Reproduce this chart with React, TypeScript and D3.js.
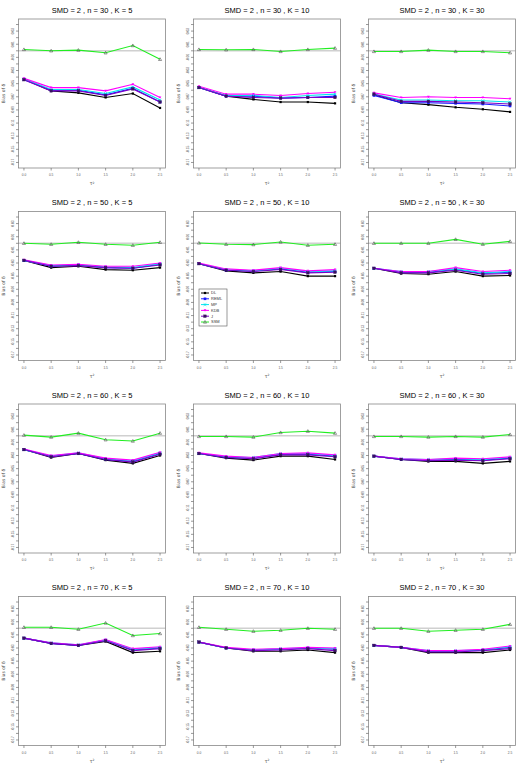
import React from "react";
import * as d3 from "d3";

const taus = [0.0, 0.5, 1.0, 1.5, 2.0, 2.5];
const tauLabels = ["0.0", "0.5", "1.0", "1.5", "2.0", "2.5"];
const nValues = [30, 30, 30, 50, 50, 50, 60, 60, 60, 70, 70, 70];
const kValues = [5, 10, 30, 5, 10, 30, 5, 10, 30, 5, 10, 30];
const yTicks = d3.range(-17, 5).map((d) => d / 100);
const seriesNames = ["DL", "REML", "MP", "KDB", "J", "SSM"];
const seriesColors = ["#000000", "#1a1aff", "#00e5ee", "#ff00ff", "#7a00c8", "#22ee22"];

const dl = [
  [-0.043, -0.061, -0.064, -0.071, -0.065, -0.087],
  [-0.056, -0.069, -0.074, -0.078, -0.078, -0.080],
  [-0.067, -0.079, -0.082, -0.086, -0.089, -0.093],
  [-0.026, -0.037, -0.035, -0.040, -0.041, -0.037],
  [-0.031, -0.042, -0.045, -0.043, -0.050, -0.050],
  [-0.038, -0.046, -0.047, -0.043, -0.050, -0.049],
  [-0.021, -0.033, -0.027, -0.037, -0.042, -0.030],
  [-0.027, -0.034, -0.037, -0.031, -0.031, -0.036],
  [-0.031, -0.036, -0.039, -0.039, -0.042, -0.039],
  [-0.015, -0.023, -0.026, -0.020, -0.037, -0.035],
  [-0.021, -0.030, -0.035, -0.035, -0.033, -0.037],
  [-0.026, -0.029, -0.037, -0.037, -0.037, -0.033],
];
const reml = [
  [-0.044, -0.060, -0.060, -0.067, -0.057, -0.078],
  [-0.056, -0.069, -0.069, -0.072, -0.071, -0.069],
  [-0.068, -0.079, -0.079, -0.080, -0.081, -0.084],
  [-0.026, -0.035, -0.033, -0.037, -0.038, -0.032],
  [-0.031, -0.041, -0.042, -0.039, -0.044, -0.043],
  [-0.038, -0.044, -0.044, -0.040, -0.046, -0.044],
  [-0.021, -0.031, -0.027, -0.036, -0.039, -0.027],
  [-0.027, -0.033, -0.034, -0.028, -0.028, -0.031],
  [-0.031, -0.036, -0.037, -0.036, -0.037, -0.034],
  [-0.015, -0.023, -0.026, -0.018, -0.033, -0.030],
  [-0.021, -0.030, -0.033, -0.032, -0.030, -0.032],
  [-0.026, -0.029, -0.035, -0.035, -0.033, -0.029],
];
const mp = [
  [-0.043, -0.059, -0.059, -0.065, -0.055, -0.075],
  [-0.056, -0.068, -0.068, -0.071, -0.068, -0.066],
  [-0.066, -0.075, -0.075, -0.076, -0.076, -0.078],
  [-0.026, -0.034, -0.033, -0.036, -0.037, -0.031],
  [-0.031, -0.040, -0.042, -0.038, -0.043, -0.042],
  [-0.038, -0.043, -0.043, -0.039, -0.045, -0.043],
  [-0.021, -0.031, -0.026, -0.035, -0.038, -0.026],
  [-0.027, -0.032, -0.033, -0.027, -0.027, -0.030],
  [-0.031, -0.035, -0.036, -0.035, -0.036, -0.033],
  [-0.015, -0.022, -0.025, -0.018, -0.032, -0.029],
  [-0.021, -0.030, -0.033, -0.031, -0.030, -0.031],
  [-0.026, -0.029, -0.034, -0.034, -0.033, -0.028],
];
const kdb = [
  [-0.042, -0.056, -0.056, -0.061, -0.051, -0.071],
  [-0.054, -0.066, -0.066, -0.068, -0.065, -0.063],
  [-0.064, -0.071, -0.070, -0.071, -0.071, -0.073],
  [-0.025, -0.033, -0.032, -0.035, -0.035, -0.030],
  [-0.030, -0.039, -0.041, -0.037, -0.042, -0.040],
  [-0.038, -0.043, -0.043, -0.037, -0.043, -0.041],
  [-0.020, -0.030, -0.026, -0.034, -0.037, -0.025],
  [-0.026, -0.031, -0.033, -0.027, -0.026, -0.029],
  [-0.031, -0.035, -0.036, -0.034, -0.035, -0.032],
  [-0.015, -0.022, -0.025, -0.017, -0.031, -0.028],
  [-0.021, -0.029, -0.032, -0.031, -0.029, -0.030],
  [-0.026, -0.029, -0.034, -0.034, -0.032, -0.027],
];
const jack = [
  [-0.044, -0.061, -0.061, -0.068, -0.058, -0.078],
  [-0.056, -0.069, -0.071, -0.072, -0.071, -0.071],
  [-0.066, -0.077, -0.077, -0.078, -0.079, -0.081],
  [-0.026, -0.035, -0.034, -0.037, -0.038, -0.033],
  [-0.031, -0.041, -0.043, -0.040, -0.045, -0.044],
  [-0.038, -0.045, -0.045, -0.041, -0.047, -0.046],
  [-0.021, -0.032, -0.027, -0.036, -0.040, -0.028],
  [-0.027, -0.033, -0.035, -0.029, -0.029, -0.032],
  [-0.031, -0.036, -0.038, -0.037, -0.038, -0.035],
  [-0.015, -0.023, -0.026, -0.019, -0.034, -0.031],
  [-0.021, -0.030, -0.034, -0.033, -0.031, -0.034],
  [-0.026, -0.029, -0.036, -0.036, -0.034, -0.031],
];
const ssm = [
  [0.002, 0.000, 0.001, -0.003, 0.008, -0.013],
  [0.002, 0.0015, 0.002, -0.001, 0.002, 0.004],
  [-0.001, -0.001, 0.001, -0.001, -0.001, -0.003],
  [0.000, -0.0015, 0.0015, -0.0015, -0.003, 0.0015],
  [0.0005, -0.0015, -0.002, 0.002, -0.003, -0.0015],
  [0.000, 0.000, 0.000, 0.006, -0.0015, 0.003],
  [0.001, -0.002, 0.004, -0.006, -0.008, 0.004],
  [-0.001, -0.001, -0.002, 0.005, 0.007, 0.004],
  [-0.001, -0.001, -0.002, -0.001, -0.002, 0.002],
  [0.0015, 0.0015, -0.0015, 0.008, -0.011, -0.008],
  [0.0015, -0.0015, -0.0045, -0.003, 0.000, -0.0015],
  [0.000, 0.000, -0.0045, -0.003, -0.0015, 0.006],
];
const allSeries = [dl, reml, mp, kdb, jack, ssm];

const W = 147;
const H = 149;
const FONT = "Liberation Sans, Arial, Helvetica, sans-serif";

function Marker({ kind, x, y, color }: { kind: number; x: number; y: number; color: string }) {
  const s = 1.3;
  if (kind === 0) return <rect x={x - 1.1} y={y - 1.1} width={2.2} height={2.2} fill="#000" />;
  if (kind === 1) return <rect x={x - s} y={y - s} width={2 * s} height={2 * s} fill={color} />;
  if (kind === 2)
    return (
      <path d={`M${x - s},${y - s}L${x + s},${y + s}M${x - s},${y + s}L${x + s},${y - s}`} stroke={color} strokeWidth={0.8} />
    );
  if (kind === 3)
    return <path d={`M${x - s},${y - s * 0.8}L${x + s},${y - s * 0.8}L${x},${y + s * 1.1}Z`} fill={color} />;
  if (kind === 4)
    return <rect x={x - s} y={y - s} width={2 * s} height={2 * s} fill="#3a1060" stroke="#3a1060" strokeWidth={0.4} />;
  return <path d={`M${x},${y - s * 1.2}L${x + s * 1.2},${y + s * 0.9}L${x - s * 1.2},${y + s * 0.9}Z`} fill="none" stroke="#555" strokeWidth={0.6} />;
}

function Panel({ idx }: { idx: number }) {
  const col = idx % 3;
  const row = Math.floor(idx / 3);
  const ox = 18.5 + col * 175;
  const oy = 19 + row * 192.5;
  const x = d3.scaleLinear().domain([-0.1, 2.6]).range([0, W]);
  const yPad = 0.21 * 0.04;
  const y = d3.scaleLinear().domain([-0.17 - yPad, 0.04 + yPad]).range([H, 0]);
  const line = d3
    .line<number>()
    .x((_, i) => x(taus[i]))
    .y((d) => y(d));
  const labelTicks = yTicks.filter((_, i) => i % 2 === 0);
  return (
    <g transform={`translate(${ox},${oy})`}>
      <text x={W / 2} y={-6.5} textAnchor="middle" fontSize={7.5} fontFamily={FONT} fill="#000">
        {`SMD = 2 , n = ${nValues[idx]} , K = ${kValues[idx]}`}
      </text>
      <line x1={0} x2={W} y1={y(0)} y2={y(0)} stroke="#d0d0d0" strokeWidth={1.5} />
      {allSeries.map((s, si) => (
        <path key={si} d={line(s[idx]) || ""} fill="none" stroke={seriesColors[si]} strokeWidth={1.1} />
      ))}
      {allSeries.map((s, si) =>
        s[idx].map((v, i) => <Marker key={`${si}-${i}`} kind={si} x={x(taus[i])} y={y(v)} color={seriesColors[si]} />)
      )}
      <rect x={0} y={0} width={W} height={H} fill="none" stroke="#888" strokeWidth={0.8} />
      {yTicks.map((t) => (
        <line key={t} x1={-2.5} x2={0} y1={y(t)} y2={y(t)} stroke="#555" strokeWidth={0.6} />
      ))}
      {labelTicks.map((t) => (
        <text
          key={t}
          transform={`translate(${-5},${y(t)}) rotate(-90)`}
          textAnchor="middle"
          fontSize={3.2}
          fontFamily={FONT}
          fill="#555"
        >
          {t.toFixed(2)}
        </text>
      ))}
      {taus.map((t, i) => (
        <g key={t}>
          <line x1={x(t)} x2={x(t)} y1={H} y2={H + 2.5} stroke="#555" strokeWidth={0.6} />
          <text x={x(t)} y={H + 8} textAnchor="middle" fontSize={3.2} fontFamily={FONT} fill="#555">
            {tauLabels[i]}
          </text>
        </g>
      ))}
      <text x={W / 2} y={H + 17} textAnchor="middle" fontSize={4.5} fontFamily="DejaVu Sans, sans-serif" fill="#444">
        τ<tspan dy={-1.5} fontSize={3}>2</tspan>
      </text>
      <text
        transform={`translate(${-13.5},${H / 2}) rotate(-90)`}
        textAnchor="middle"
        fontSize={4.5}
        fontFamily="DejaVu Sans, sans-serif"
        fill="#444"
      >
        Bias of δ
      </text>
    </g>
  );
}

function Legend() {
  const lx = 199;
  const ly = 289;
  const step = 5.8;
  return (
    <g>
      <rect x={lx} y={ly} width={28} height={37} fill="#fff" stroke="#555" strokeWidth={0.6} />
      {seriesNames.map((name, i) => {
        const yy = ly + 4 + i * step;
        return (
          <g key={name}>
            <line x1={lx + 2} x2={lx + 10} y1={yy} y2={yy} stroke={seriesColors[i]} strokeWidth={1} />
            <Marker kind={i} x={lx + 6} y={yy} color={seriesColors[i]} />
            <text x={lx + 12} y={yy + 1.4} fontSize={4} fontFamily={FONT} fill="#333">
              {name}
            </text>
          </g>
        );
      })}
    </g>
  );
}

export default function App() {
  return (
    <svg
      width={525}
      height={770}
      style={{ position: "absolute", left: 0, top: 0, background: "#fff" }}
    >
      <rect width={525} height={770} fill="#fff" />
      {nValues.map((_, i) => (
        <Panel key={i} idx={i} />
      ))}
      <Legend />
    </svg>
  );
}
